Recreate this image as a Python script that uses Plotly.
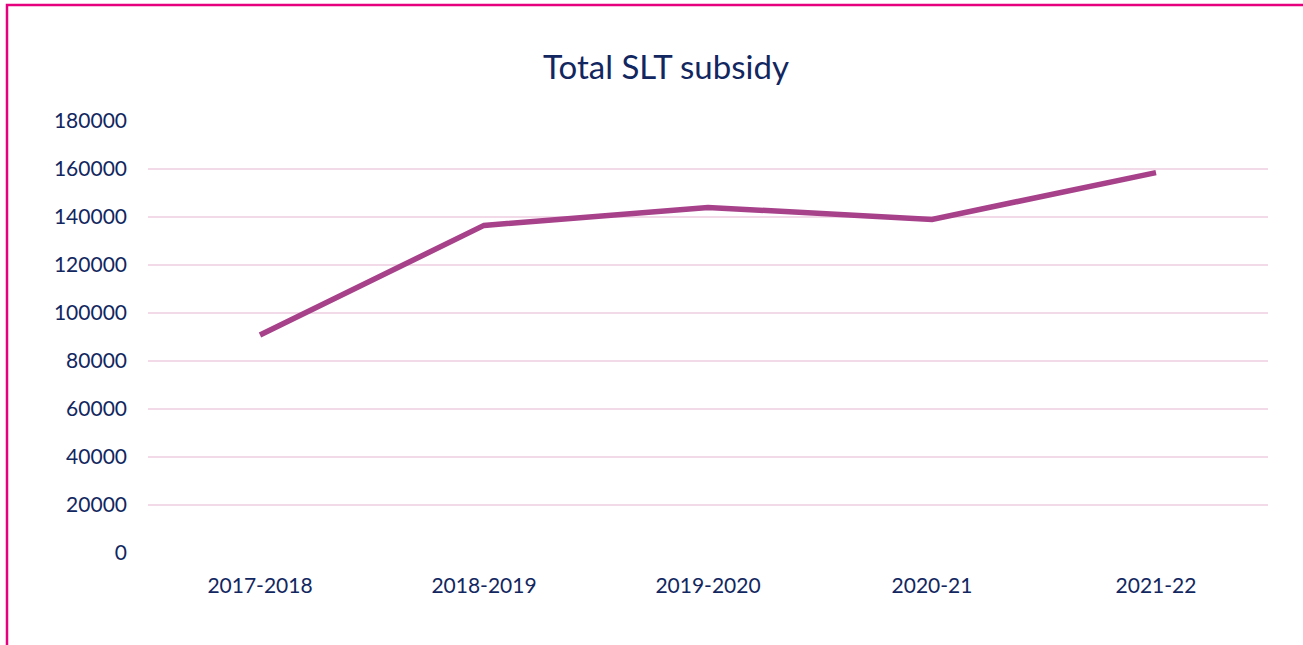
import plotly.graph_objects as go

categories = ["2017-2018", "2018-2019", "2019-2020", "2020-21", "2021-22"]
subsidy = [90800, 136500, 144000, 139000, 158500]
y_ticks = [0, 20000, 40000, 60000, 80000, 100000, 120000, 140000, 160000, 180000]

navy = "#12275F"
pink = "#E6007E"

fig = go.Figure()
fig.add_trace(go.Scatter(
    x=categories, y=subsidy, mode="lines",
    line=dict(color="#A6418A", width=5.5),
    hoverinfo="x+y",
))

W, H = 1303, 645
L, R, T, B = 148, 35, 121, 92
pw, ph = W - L - R, H - T - B

def px_x(p):
    return (p - L) / pw

def px_y(p):
    return (H - B - p) / ph

fig.add_shape(type="path", xref="paper", yref="paper",
              path=f"M {px_x(7)} {px_y(670)} L {px_x(7)} {px_y(5)} L {px_x(1315)} {px_y(5)} L {px_x(1315)} {px_y(670)}",
              line=dict(color=pink, width=2.5), layer="above")

fig.update_layout(
    width=W, height=H,
    margin=dict(l=L, r=R, t=T, b=B, autoexpand=False),
    paper_bgcolor="white", plot_bgcolor="white",
    showlegend=False,
    font=dict(family="Lato, Open Sans, sans-serif", color=navy, size=21),
    title=dict(text="Total SLT subsidy", x=666 / W, xanchor="center",
               y=1 - 67 / H, yanchor="middle", yref="container",
               font=dict(size=33, color=navy)),
    xaxis=dict(showgrid=False, showline=False, zeroline=False, ticks="",
               range=[-0.5, 4.5], ticklabelstandoff=18,
               tickfont=dict(size=21, color=navy)),
    yaxis=dict(range=[0, 180000], tickvals=y_ticks,
               ticktext=[str(v) for v in y_ticks],
               showgrid=True, gridcolor="#F3DAE9", gridwidth=1.5,
               zeroline=False, showline=False, ticks="",
               ticklabelstandoff=20,
               tickfont=dict(size=21, color=navy)),
)

fig.write_html("out.html", config={"displayModeBar": False},
               post_script="document.body.style.margin='0';document.body.style.overflow='hidden';")
